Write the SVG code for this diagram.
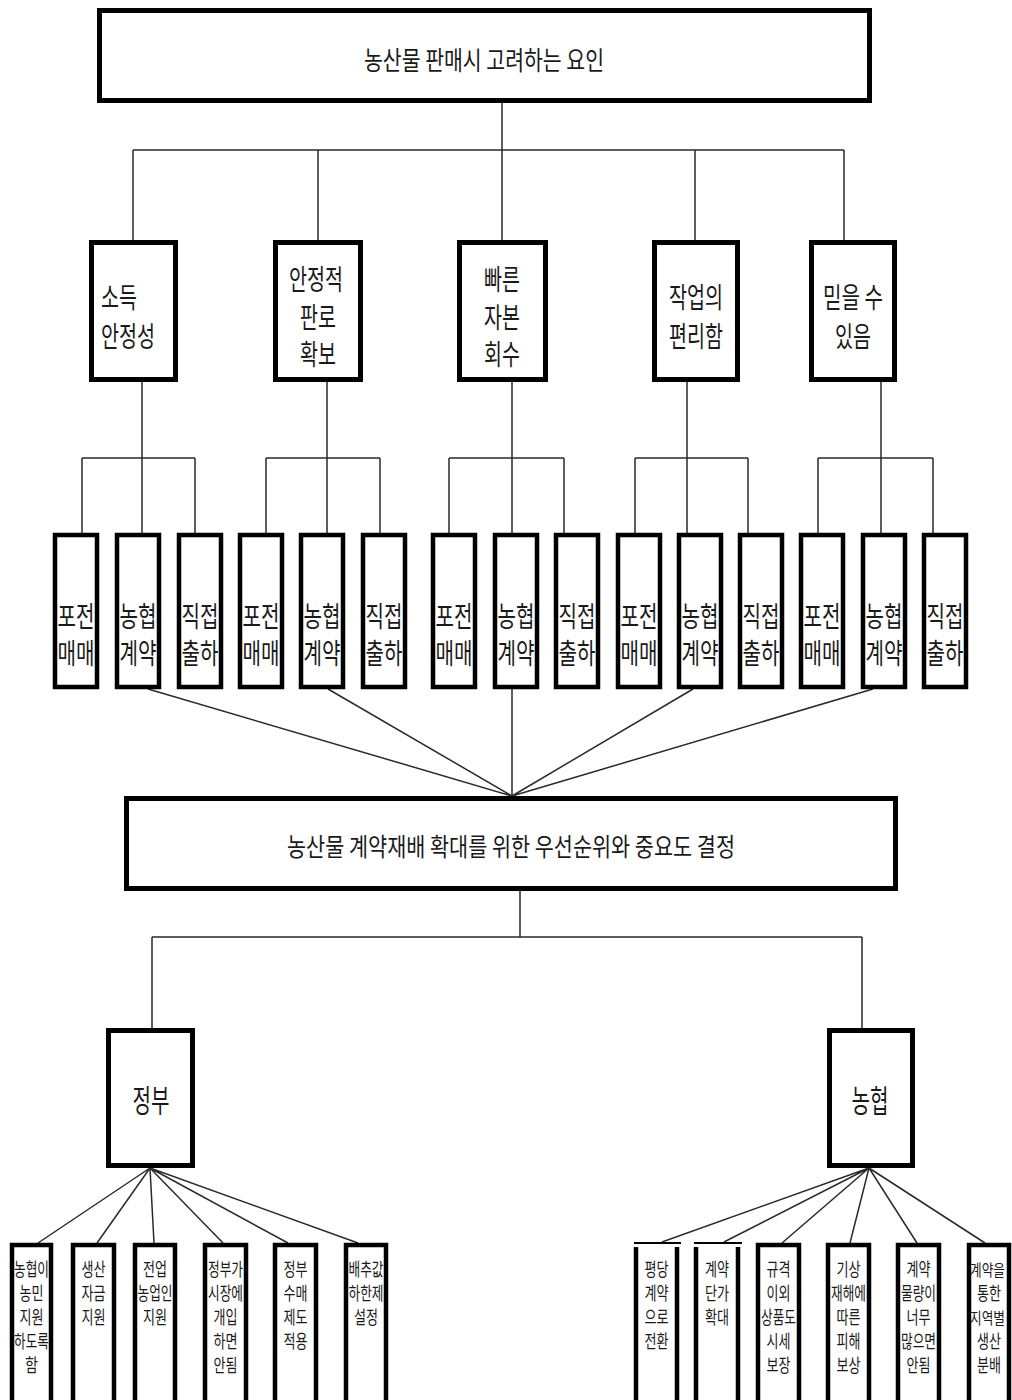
<svg xmlns="http://www.w3.org/2000/svg" width="1012" height="1400" viewBox="0 0 1012 1400">
<defs>
<style>
.box{fill:#fff;stroke:#000;stroke-width:5}
.leaf{fill:#fff;stroke:#000;stroke-width:4.5}
.ln{stroke:#2a2a2a;stroke-width:1.5;fill:none}
text{font-family:"Noto Sans CJK KR","Noto Sans",sans-serif;fill:#1a1a1a;text-anchor:middle}
.t1{font-size:26px}
.t2{font-size:28px}
.t3{font-size:28px}
.t4{font-size:18px}
.t6{font-size:16px}
.t5{font-size:31px}
</style>
</defs>
<rect width="1012" height="1400" fill="#fff"/>
<g id="connectors">
<path class="ln" d="M502 103V150M133 150H844M133 150V240M318 150V240M502 150V240M695 150V240M844 150V240"/>
<path class="ln" d="M142 382V533M82 458H195M82 458V533M195 458V533"/>
<path class="ln" d="M327 382V533M266 458H380M266 458V533M380 458V533"/>
<path class="ln" d="M512 382V533M449 458H564M449 458V533M564 458V533"/>
<path class="ln" d="M687 382V533M635 458H748M635 458V533M748 458V533"/>
<path class="ln" d="M881 382V533M818 458H933M818 458V533M933 458V533"/>
<path class="ln" d="M148 689L512 796M328 689L512 796M512 689L512 796M693 689L512 796M873 689L512 796"/>
<path class="ln" d="M520 891V937M152 937H862M152 937V1028M862 937V1028"/>
<path class="ln" d="M150 1168L38 1243M150 1168L97 1243M150 1168L154 1243M150 1168L223 1243M150 1168L288 1243M150 1168L358 1243"/>
<path class="ln" d="M869 1168L662 1242M869 1168L724 1242M869 1168L782 1243M869 1168L850 1243M869 1168L917 1243M869 1168L985 1243"/>
</g>
<g id="top">
<rect class="box" x="99.5" y="10.5" width="770" height="90"/>
<text class="t1" x="484" y="70" textLength="240" lengthAdjust="spacingAndGlyphs">농산물 판매시 고려하는 요인</text>
</g>
<g id="f1">
<rect class="box" x="91.5" y="242.5" width="84" height="137"/>
<text class="t2" x="101" y="308" style="text-anchor:start" textLength="36" lengthAdjust="spacingAndGlyphs">소득</text>
<text class="t2" x="101" y="347" style="text-anchor:start" textLength="54" lengthAdjust="spacingAndGlyphs">안정성</text>
</g>
<g id="f2">
<rect class="box" x="275.5" y="242.5" width="85" height="137"/>
<text class="t2" x="316" y="290" textLength="54" lengthAdjust="spacingAndGlyphs">안정적</text>
<text class="t2" x="318" y="328" textLength="36" lengthAdjust="spacingAndGlyphs">판로</text>
<text class="t2" x="318" y="365" textLength="36" lengthAdjust="spacingAndGlyphs">확보</text>
</g>
<g id="f3">
<rect class="box" x="459.5" y="242.5" width="86" height="137"/>
<text class="t2" x="502" y="290" textLength="36" lengthAdjust="spacingAndGlyphs">빠른</text>
<text class="t2" x="502" y="328" textLength="36" lengthAdjust="spacingAndGlyphs">자본</text>
<text class="t2" x="502" y="365" textLength="36" lengthAdjust="spacingAndGlyphs">회수</text>
</g>
<g id="f4">
<rect class="box" x="654.5" y="242.5" width="83" height="137"/>
<text class="t2" x="696" y="308" textLength="54" lengthAdjust="spacingAndGlyphs">작업의</text>
<text class="t2" x="696" y="347" textLength="54" lengthAdjust="spacingAndGlyphs">편리함</text>
</g>
<g id="f5">
<rect class="box" x="811.5" y="242.5" width="83" height="137"/>
<text class="t2" x="853" y="308" textLength="60" lengthAdjust="spacingAndGlyphs">믿을 수</text>
<text class="t2" x="853" y="347" textLength="36" lengthAdjust="spacingAndGlyphs">있음</text>
</g>
<g id="leaf1"><rect class="leaf" x="55" y="535" width="42" height="152"/><text class="t3" x="76" y="627" textLength="37" lengthAdjust="spacingAndGlyphs">포전</text><text class="t3" x="76" y="664" textLength="37" lengthAdjust="spacingAndGlyphs">매매</text></g>
<g id="leaf2"><rect class="leaf" x="117" y="535" width="42" height="152"/><text class="t3" x="138" y="627" textLength="37" lengthAdjust="spacingAndGlyphs">농협</text><text class="t3" x="138" y="664" textLength="37" lengthAdjust="spacingAndGlyphs">계약</text></g>
<g id="leaf3"><rect class="leaf" x="179" y="535" width="42" height="152"/><text class="t3" x="200" y="627" textLength="37" lengthAdjust="spacingAndGlyphs">직접</text><text class="t3" x="200" y="664" textLength="37" lengthAdjust="spacingAndGlyphs">출하</text></g>
<g id="leaf4"><rect class="leaf" x="240" y="535" width="42" height="152"/><text class="t3" x="261" y="627" textLength="37" lengthAdjust="spacingAndGlyphs">포전</text><text class="t3" x="261" y="664" textLength="37" lengthAdjust="spacingAndGlyphs">매매</text></g>
<g id="leaf5"><rect class="leaf" x="301" y="535" width="42" height="152"/><text class="t3" x="322" y="627" textLength="37" lengthAdjust="spacingAndGlyphs">농협</text><text class="t3" x="322" y="664" textLength="37" lengthAdjust="spacingAndGlyphs">계약</text></g>
<g id="leaf6"><rect class="leaf" x="363" y="535" width="42" height="152"/><text class="t3" x="384" y="627" textLength="37" lengthAdjust="spacingAndGlyphs">직접</text><text class="t3" x="384" y="664" textLength="37" lengthAdjust="spacingAndGlyphs">출하</text></g>
<g id="leaf7"><rect class="leaf" x="433" y="535" width="42" height="152"/><text class="t3" x="454" y="627" textLength="37" lengthAdjust="spacingAndGlyphs">포전</text><text class="t3" x="454" y="664" textLength="37" lengthAdjust="spacingAndGlyphs">매매</text></g>
<g id="leaf8"><rect class="leaf" x="495" y="535" width="42" height="152"/><text class="t3" x="516" y="627" textLength="37" lengthAdjust="spacingAndGlyphs">농협</text><text class="t3" x="516" y="664" textLength="37" lengthAdjust="spacingAndGlyphs">계약</text></g>
<g id="leaf9"><rect class="leaf" x="556" y="535" width="42" height="152"/><text class="t3" x="577" y="627" textLength="37" lengthAdjust="spacingAndGlyphs">직접</text><text class="t3" x="577" y="664" textLength="37" lengthAdjust="spacingAndGlyphs">출하</text></g>
<g id="leaf10"><rect class="leaf" x="618" y="535" width="42" height="152"/><text class="t3" x="639" y="627" textLength="37" lengthAdjust="spacingAndGlyphs">포전</text><text class="t3" x="639" y="664" textLength="37" lengthAdjust="spacingAndGlyphs">매매</text></g>
<g id="leaf11"><rect class="leaf" x="679" y="535" width="42" height="152"/><text class="t3" x="700" y="627" textLength="37" lengthAdjust="spacingAndGlyphs">농협</text><text class="t3" x="700" y="664" textLength="37" lengthAdjust="spacingAndGlyphs">계약</text></g>
<g id="leaf12"><rect class="leaf" x="740" y="535" width="42" height="152"/><text class="t3" x="761" y="627" textLength="37" lengthAdjust="spacingAndGlyphs">직접</text><text class="t3" x="761" y="664" textLength="37" lengthAdjust="spacingAndGlyphs">출하</text></g>
<g id="leaf13"><rect class="leaf" x="801" y="535" width="42" height="152"/><text class="t3" x="822" y="627" textLength="37" lengthAdjust="spacingAndGlyphs">포전</text><text class="t3" x="822" y="664" textLength="37" lengthAdjust="spacingAndGlyphs">매매</text></g>
<g id="leaf14"><rect class="leaf" x="863" y="535" width="42" height="152"/><text class="t3" x="884" y="627" textLength="37" lengthAdjust="spacingAndGlyphs">농협</text><text class="t3" x="884" y="664" textLength="37" lengthAdjust="spacingAndGlyphs">계약</text></g>
<g id="leaf15"><rect class="leaf" x="924" y="535" width="42" height="152"/><text class="t3" x="945" y="627" textLength="37" lengthAdjust="spacingAndGlyphs">직접</text><text class="t3" x="945" y="664" textLength="37" lengthAdjust="spacingAndGlyphs">출하</text></g>
<g id="middle">
<rect class="box" x="126.5" y="798.5" width="769" height="90"/>
<text class="t1" x="511" y="856" style="font-size:25px" textLength="448" lengthAdjust="spacingAndGlyphs">농산물 계약재배 확대를 위한 우선순위와 중요도 결정</text>
</g>
<g id="gov">
<rect class="box" x="108.5" y="1030.5" width="84" height="135"/>
<text class="t5" x="151" y="1112" textLength="37" lengthAdjust="spacingAndGlyphs">정부</text>
</g>
<g id="nh">
<rect class="box" x="829.5" y="1030.5" width="83" height="135"/>
<text class="t5" x="870" y="1112" textLength="37" lengthAdjust="spacingAndGlyphs">농협</text>
</g>
<g id="g1"><rect class="leaf" x="12" y="1245" width="39" height="170"/>
<text class="t4" x="31.5" y="1276" textLength="35" lengthAdjust="spacingAndGlyphs">농협이</text>
<text class="t4" x="31.5" y="1300" textLength="24" lengthAdjust="spacingAndGlyphs">농민</text>
<text class="t4" x="31.5" y="1324" textLength="24" lengthAdjust="spacingAndGlyphs">지원</text>
<text class="t4" x="31.5" y="1348" textLength="35" lengthAdjust="spacingAndGlyphs">하도록</text>
<text class="t4" x="31.5" y="1372" textLength="13" lengthAdjust="spacingAndGlyphs">함</text></g>
<g id="g2"><rect class="leaf" x="73" y="1245" width="41" height="170"/>
<text class="t4" x="93.5" y="1276" textLength="24" lengthAdjust="spacingAndGlyphs">생산</text>
<text class="t4" x="93.5" y="1300" textLength="24" lengthAdjust="spacingAndGlyphs">자금</text>
<text class="t4" x="93.5" y="1324" textLength="24" lengthAdjust="spacingAndGlyphs">지원</text></g>
<g id="g3"><rect class="leaf" x="135" y="1245" width="40" height="170"/>
<text class="t4" x="155" y="1276" textLength="24" lengthAdjust="spacingAndGlyphs">전업</text>
<text class="t4" x="155" y="1300" textLength="35" lengthAdjust="spacingAndGlyphs">농업인</text>
<text class="t4" x="155" y="1324" textLength="24" lengthAdjust="spacingAndGlyphs">지원</text></g>
<g id="g4"><rect class="leaf" x="205" y="1245" width="41" height="170"/>
<text class="t4" x="225.5" y="1276" textLength="35" lengthAdjust="spacingAndGlyphs">정부가</text>
<text class="t4" x="225.5" y="1300" textLength="35" lengthAdjust="spacingAndGlyphs">시장에</text>
<text class="t4" x="225.5" y="1324" textLength="24" lengthAdjust="spacingAndGlyphs">개입</text>
<text class="t4" x="225.5" y="1348" textLength="24" lengthAdjust="spacingAndGlyphs">하면</text>
<text class="t4" x="225.5" y="1372" textLength="24" lengthAdjust="spacingAndGlyphs">안됨</text></g>
<g id="g5"><rect class="leaf" x="275" y="1245" width="41" height="170"/>
<text class="t4" x="295.5" y="1276" textLength="24" lengthAdjust="spacingAndGlyphs">정부</text>
<text class="t4" x="295.5" y="1300" textLength="24" lengthAdjust="spacingAndGlyphs">수매</text>
<text class="t4" x="295.5" y="1324" textLength="24" lengthAdjust="spacingAndGlyphs">제도</text>
<text class="t4" x="295.5" y="1348" textLength="24" lengthAdjust="spacingAndGlyphs">적용</text></g>
<g id="g6"><rect class="leaf" x="346" y="1245" width="40" height="170"/>
<text class="t4" x="366" y="1276" textLength="35" lengthAdjust="spacingAndGlyphs">배추값</text>
<text class="t4" x="366" y="1300" textLength="35" lengthAdjust="spacingAndGlyphs">하한제</text>
<text class="t4" x="366" y="1324" textLength="24" lengthAdjust="spacingAndGlyphs">설정</text></g>
<g id="n1"><path d="M634 1243H681" stroke="#000" stroke-width="2" fill="none"/><path d="M636 1247V1415M677 1247V1415" stroke="#000" stroke-width="4.5" fill="none"/>
<text class="t4" x="656.5" y="1276" textLength="24" lengthAdjust="spacingAndGlyphs">평당</text>
<text class="t4" x="656.5" y="1300" textLength="24" lengthAdjust="spacingAndGlyphs">계약</text>
<text class="t4" x="656.5" y="1324" textLength="24" lengthAdjust="spacingAndGlyphs">으로</text>
<text class="t4" x="656.5" y="1348" textLength="24" lengthAdjust="spacingAndGlyphs">전환</text></g>
<g id="n2"><path d="M694 1243H742" stroke="#000" stroke-width="2" fill="none"/><path d="M696 1247V1415M738 1247V1415" stroke="#000" stroke-width="4.5" fill="none"/>
<text class="t4" x="717" y="1276" textLength="24" lengthAdjust="spacingAndGlyphs">계약</text>
<text class="t4" x="717" y="1300" textLength="24" lengthAdjust="spacingAndGlyphs">단가</text>
<text class="t4" x="717" y="1324" textLength="24" lengthAdjust="spacingAndGlyphs">확대</text></g>
<g id="n3"><rect class="leaf" x="758" y="1245" width="41" height="170"/>
<text class="t4" x="778.5" y="1276" textLength="24" lengthAdjust="spacingAndGlyphs">규격</text>
<text class="t4" x="778.5" y="1300" textLength="24" lengthAdjust="spacingAndGlyphs">이외</text>
<text class="t4" x="778.5" y="1324" textLength="35" lengthAdjust="spacingAndGlyphs">상품도</text>
<text class="t4" x="778.5" y="1348" textLength="24" lengthAdjust="spacingAndGlyphs">시세</text>
<text class="t4" x="778.5" y="1372" textLength="24" lengthAdjust="spacingAndGlyphs">보장</text></g>
<g id="n4"><rect class="leaf" x="828" y="1245" width="41" height="170"/>
<text class="t4" x="848.5" y="1276" textLength="24" lengthAdjust="spacingAndGlyphs">기상</text>
<text class="t4" x="848.5" y="1300" textLength="35" lengthAdjust="spacingAndGlyphs">재해에</text>
<text class="t4" x="848.5" y="1324" textLength="24" lengthAdjust="spacingAndGlyphs">따른</text>
<text class="t4" x="848.5" y="1348" textLength="24" lengthAdjust="spacingAndGlyphs">피해</text>
<text class="t4" x="848.5" y="1372" textLength="24" lengthAdjust="spacingAndGlyphs">보상</text></g>
<g id="n5"><rect class="leaf" x="898" y="1245" width="41" height="170"/>
<text class="t4" x="918.5" y="1276" textLength="24" lengthAdjust="spacingAndGlyphs">계약</text>
<text class="t4" x="918.5" y="1300" textLength="35" lengthAdjust="spacingAndGlyphs">물량이</text>
<text class="t4" x="918.5" y="1324" textLength="24" lengthAdjust="spacingAndGlyphs">너무</text>
<text class="t4" x="918.5" y="1348" textLength="35" lengthAdjust="spacingAndGlyphs">많으면</text>
<text class="t4" x="918.5" y="1372" textLength="24" lengthAdjust="spacingAndGlyphs">안됨</text></g>
<g id="n6"><rect class="leaf" x="969" y="1245" width="40" height="170"/>
<text class="t6" x="987.5" y="1276" textLength="35" lengthAdjust="spacingAndGlyphs">계약을</text>
<text class="t4" x="989" y="1300" textLength="24" lengthAdjust="spacingAndGlyphs">통한</text>
<text class="t6" x="987.5" y="1324" textLength="35" lengthAdjust="spacingAndGlyphs">지역별</text>
<text class="t4" x="989" y="1348" textLength="24" lengthAdjust="spacingAndGlyphs">생산</text>
<text class="t4" x="989" y="1372" textLength="24" lengthAdjust="spacingAndGlyphs">분배</text></g>
</svg>
